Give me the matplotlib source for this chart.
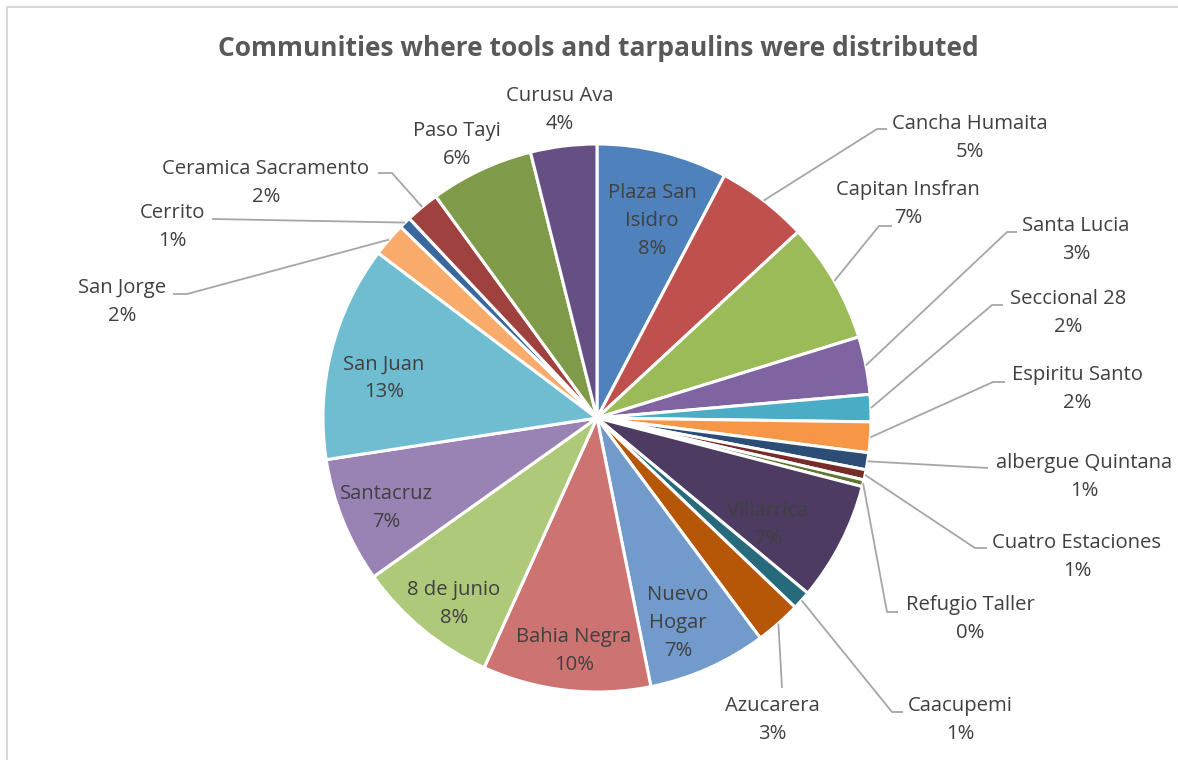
#!/usr/bin/env python3
import textwrap

import matplotlib

matplotlib.use("Agg")
import matplotlib.pyplot as plt
import numpy as np

WIDTH, HEIGHT = 1178, 760

# Slices, clockwise from 12 o'clock. Shares (%).
communities = [
    "Plaza San Isidro", "Cancha Humaita", "Capitan Insfran", "Santa Lucia",
    "Seccional 28", "Espiritu Santo", "albergue Quintana", "Cuatro Estaciones",
    "Refugio Taller", "Villarrica", "Caacupemi", "Azucarera", "Nuevo Hogar",
    "Bahia Negra", "8 de junio", "Santacruz", "San Juan", "San Jorge",
    "Cerrito", "Ceramica Sacramento", "Paso Tayi", "Curusu Ava",
]
shares = [
    7.7, 5.4, 7.1, 3.4, 1.6, 1.8, 1.0, 0.6, 0.4, 7.0, 1.1, 2.7, 7.0,
    9.9, 8.4, 7.4, 12.7, 2.0, 0.7, 2.0, 6.1, 3.9,
]
colors = [
    "#4F81BD", "#C0504D", "#9BBB59", "#8064A2", "#4BACC6", "#F79646",
    "#2C4D75", "#772C2A", "#5F7530", "#4D3B62", "#276A7C", "#B65708",
    "#729ACA", "#CD7371", "#AFC97A", "#9983B5", "#6FBDD1", "#F9AB6B",
    "#3A679C", "#9F413E", "#7F9A48", "#664F83",
]

TITLE = "Communities where tools and tarpaulins were distributed"

# Layout, in picture pixels (x to the right, y down).
CENTER = (597, 418)
RADIUS = 274
WRAPPED = {"Plaza San Isidro", "Nuevo Hogar"}
inside_labels = {
    "Plaza San Isidro": (652, 221),
    "Villarrica": (768, 525),
    "Nuevo Hogar": (678, 623),
    "Bahia Negra": (574, 651),
    "8 de junio": (454, 604),
    "Santacruz": (386, 508),
    "San Juan": (384, 378),
}
# text centre, then the leader's points after the slice edge
outside_labels = {
    "Cancha Humaita": ((970, 138), [(877, 129), (887, 129)]),
    "Capitan Insfran": ((908, 204), [(879, 226), (892, 226)]),
    "Santa Lucia": ((1076, 240), [(1007, 232), (1017, 232)]),
    "Seccional 28": ((1068, 313), [(992, 305), (1003, 305)]),
    "Espiritu Santo": ((1077, 389), [(993, 382), (1005, 382)]),
    "albergue Quintana": ((1084, 477), [(988, 468)]),
    "Cuatro Estaciones": ((1077, 557), [(975, 548), (987, 548)]),
    "Refugio Taller": ((970, 619), [(887, 612), (898, 612)]),
    "Caacupemi": ((960, 720), [(892, 712), (903, 712)]),
    "Azucarera": ((772, 720), [(782, 688)]),
    "San Jorge": ((122, 302), [(187, 294), (173, 294)]),
    "Cerrito": ((172, 227), [(212, 219)]),
    "Ceramica Sacramento": ((266, 183), [(392, 173), (378, 173)]),
    "Paso Tayi": ((457, 145), []),
    "Curusu Ava": ((560, 110), []),
}

FONT = "Open Sans"
TEXT_COLOR = "#404040"
LEADER_COLOR = "#A6A6A6"
LABEL_SIZE = 14.6


def px(x, y):
    """Picture pixel -> data coordinates (y up)."""
    return x, HEIGHT - y


def label_text(name, share, total):
    shown = textwrap.fill(name, 10) if name in WRAPPED else name
    return f"{shown}\n{round(share / total * 100):.0f}%"


def main():
    fig = plt.figure(figsize=(WIDTH / 100, HEIGHT / 100), dpi=100)
    ax = fig.add_axes([0, 0, 1, 1])

    center = px(*CENTER)
    wedges, _ = ax.pie(
        shares,
        colors=colors,
        startangle=90,
        counterclock=False,
        center=center,
        radius=RADIUS,
        wedgeprops=dict(edgecolor="white", linewidth=2.2),
    )
    ax.set_xlim(0, WIDTH)
    ax.set_ylim(0, HEIGHT)
    ax.set_aspect("equal")
    ax.axis("off")

    total = sum(shares)
    for name, share, wedge in zip(communities, shares, wedges):
        text = label_text(name, share, total)
        if name in inside_labels:
            ax.text(*px(*inside_labels[name]), text, ha="center", va="center",
                    fontsize=LABEL_SIZE, family=FONT, color=TEXT_COLOR,
                    linespacing=1.5)
            continue
        (tx, ty), hooks = outside_labels[name]
        ax.text(*px(tx, ty), text, ha="center", va="center",
                fontsize=LABEL_SIZE, family=FONT, color=TEXT_COLOR, linespacing=1.5)
        if not hooks:
            continue
        mid = np.radians((wedge.theta1 + wedge.theta2) / 2)
        start = (center[0] + RADIUS * np.cos(mid), center[1] + RADIUS * np.sin(mid))
        points = [start] + [px(x, y) for x, y in hooks]
        xs, ys = zip(*points)
        ax.plot(xs, ys, color=LEADER_COLOR, lw=1.3, solid_capstyle="butt")

    ax.text(*px(598, 48), TITLE, ha="center", va="center", fontsize=19,
            fontweight="bold", family=FONT, color="#595959")

    # chart area border (only the top and left edges are in the picture)
    ax.plot(*zip(px(7, HEIGHT), px(7, 7), px(WIDTH, 7)), color="#D9D9D9", lw=1.5)

    fig.savefig("out.png", dpi=100, facecolor="white")


if __name__ == "__main__":
    main()
